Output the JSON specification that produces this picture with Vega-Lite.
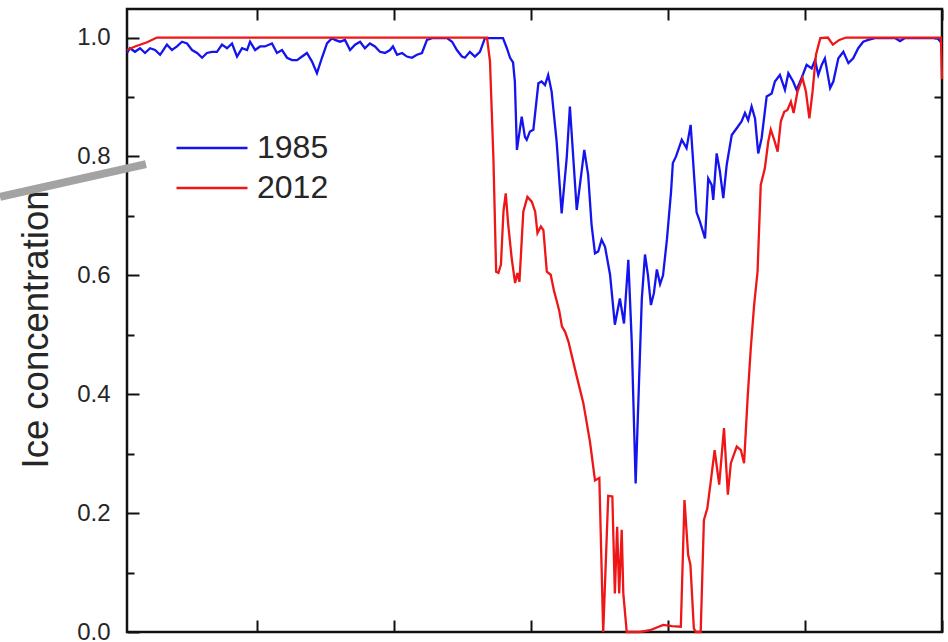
{
  "$schema": "https://vega.github.io/schema/vega-lite/v6.json",
  "width": 815,
  "height": 623,
  "autosize": "none",
  "padding": {"left": 127, "top": 9, "right": 6, "bottom": 10},
  "config": {
    "view": {"stroke": "#111111", "strokeWidth": 2.5},
    "font": "Liberation Sans",
    "axis": {"grid": false, "domain": false, "tickColor": "#111111", "tickWidth": 2, "labelFont": "Liberation Sans", "titleFont": "Liberation Sans"}
  },
  "datasets": {
    "ice": [
      {"year":"1985","day":3,"conc":0.974},{"year":"1985","day":4.3,"conc":0.982},{"year":"1985","day":6.5,"conc":0.976},{"year":"1985","day":8.7,"conc":0.982},{"year":"1985","day":10.9,"conc":0.974},{"year":"1985","day":13.1,"conc":0.982},{"year":"1985","day":15.3,"conc":0.979},{"year":"1985","day":17.5,"conc":0.971},{"year":"1985","day":20.5,"conc":0.988},{"year":"1985","day":22.7,"conc":0.979},{"year":"1985","day":24.9,"conc":0.985},{"year":"1985","day":27.1,"conc":0.993},{"year":"1985","day":29.3,"conc":0.99},{"year":"1985","day":31.5,"conc":0.979},{"year":"1985","day":33.7,"conc":0.974},{"year":"1985","day":35.9,"conc":0.966},{"year":"1985","day":38,"conc":0.974},{"year":"1985","day":40.2,"conc":0.976},{"year":"1985","day":42.4,"conc":0.976},{"year":"1985","day":44.6,"conc":0.988},{"year":"1985","day":46.8,"conc":0.982},{"year":"1985","day":49,"conc":0.99},{"year":"1985","day":51.2,"conc":0.968},{"year":"1985","day":53.4,"conc":0.982},{"year":"1985","day":55.6,"conc":0.979},{"year":"1985","day":56.9,"conc":0.993},{"year":"1985","day":59.1,"conc":0.979},{"year":"1985","day":61.3,"conc":0.985},{"year":"1985","day":63.4,"conc":0.985},{"year":"1985","day":66.5,"conc":0.99},{"year":"1985","day":68.7,"conc":0.974},{"year":"1985","day":70.9,"conc":0.979},{"year":"1985","day":73.1,"conc":0.966},{"year":"1985","day":75.3,"conc":0.962},{"year":"1985","day":77.5,"conc":0.962},{"year":"1985","day":79.7,"conc":0.968},{"year":"1985","day":81.8,"conc":0.974},{"year":"1985","day":84,"conc":0.96},{"year":"1985","day":86.2,"conc":0.94},{"year":"1985","day":88.4,"conc":0.966},{"year":"1985","day":90.6,"conc":0.99},{"year":"1985","day":92.8,"conc":0.999},{"year":"1985","day":94.1,"conc":0.996},{"year":"1985","day":96.3,"conc":0.993},{"year":"1985","day":98.5,"conc":0.996},{"year":"1985","day":100.7,"conc":0.979},{"year":"1985","day":102.9,"conc":0.988},{"year":"1985","day":105.1,"conc":0.993},{"year":"1985","day":107.2,"conc":0.982},{"year":"1985","day":109.4,"conc":0.99},{"year":"1985","day":111.6,"conc":0.985},{"year":"1985","day":113.8,"conc":0.976},{"year":"1985","day":116,"conc":0.974},{"year":"1985","day":118.2,"conc":0.979},{"year":"1985","day":119.5,"conc":0.985},{"year":"1985","day":121.3,"conc":0.971},{"year":"1985","day":123.5,"conc":0.974},{"year":"1985","day":125.6,"conc":0.968},{"year":"1985","day":127.8,"conc":0.966},{"year":"1985","day":130,"conc":0.971},{"year":"1985","day":132.2,"conc":0.974},{"year":"1985","day":134.4,"conc":0.996},{"year":"1985","day":136.6,"conc":0.999},{"year":"1985","day":138.8,"conc":0.999},{"year":"1985","day":141,"conc":0.999},{"year":"1985","day":143.2,"conc":0.999},{"year":"1985","day":145.4,"conc":0.993},{"year":"1985","day":147.5,"conc":0.979},{"year":"1985","day":149.7,"conc":0.968},{"year":"1985","day":151,"conc":0.966},{"year":"1985","day":153.2,"conc":0.976},{"year":"1985","day":155.4,"conc":0.968},{"year":"1985","day":157.6,"conc":0.976},{"year":"1985","day":159.8,"conc":0.999},{"year":"1985","day":162,"conc":0.999},{"year":"1985","day":164.2,"conc":0.999},{"year":"1985","day":166.4,"conc":0.999},{"year":"1985","day":167.7,"conc":0.999},{"year":"1985","day":169.4,"conc":0.982},{"year":"1985","day":170.8,"conc":0.966},{"year":"1985","day":172.1,"conc":0.958},{"year":"1985","day":172.9,"conc":0.926},{"year":"1985","day":173.8,"conc":0.811},{"year":"1985","day":175.9,"conc":0.867},{"year":"1985","day":177.3,"conc":0.833},{"year":"1985","day":178.1,"conc":0.828},{"year":"1985","day":179.5,"conc":0.842},{"year":"1985","day":181,"conc":0.845},{"year":"1985","day":183.2,"conc":0.923},{"year":"1985","day":184.6,"conc":0.926},{"year":"1985","day":186.1,"conc":0.92},{"year":"1985","day":187.5,"conc":0.937},{"year":"1985","day":189,"conc":0.909},{"year":"1985","day":191.2,"conc":0.825},{"year":"1985","day":193.4,"conc":0.704},{"year":"1985","day":195.6,"conc":0.797},{"year":"1985","day":197,"conc":0.884},{"year":"1985","day":198.5,"conc":0.797},{"year":"1985","day":200,"conc":0.71},{"year":"1985","day":201.4,"conc":0.752},{"year":"1985","day":203.3,"conc":0.811},{"year":"1985","day":205,"conc":0.769},{"year":"1985","day":206.5,"conc":0.685},{"year":"1985","day":208,"conc":0.637},{"year":"1985","day":209.4,"conc":0.64},{"year":"1985","day":210.9,"conc":0.66},{"year":"1985","day":212.4,"conc":0.648},{"year":"1985","day":214.6,"conc":0.601},{"year":"1985","day":216.7,"conc":0.517},{"year":"1985","day":218.9,"conc":0.561},{"year":"1985","day":220.7,"conc":0.519},{"year":"1985","day":222.6,"conc":0.626},{"year":"1985","day":224.1,"conc":0.488},{"year":"1985","day":225.8,"conc":0.25},{"year":"1985","day":228.5,"conc":0.56},{"year":"1985","day":229.9,"conc":0.635},{"year":"1985","day":231.2,"conc":0.6},{"year":"1985","day":232.5,"conc":0.55},{"year":"1985","day":233.8,"conc":0.57},{"year":"1985","day":235.1,"conc":0.61},{"year":"1985","day":236.5,"conc":0.585},{"year":"1985","day":237.8,"conc":0.6},{"year":"1985","day":239.5,"conc":0.66},{"year":"1985","day":241.3,"conc":0.74},{"year":"1985","day":242.1,"conc":0.789},{"year":"1985","day":243.5,"conc":0.8},{"year":"1985","day":246,"conc":0.828},{"year":"1985","day":248.1,"conc":0.814},{"year":"1985","day":249.9,"conc":0.853},{"year":"1985","day":252.5,"conc":0.706},{"year":"1985","day":254,"conc":0.69},{"year":"1985","day":256.2,"conc":0.662},{"year":"1985","day":257.6,"conc":0.763},{"year":"1985","day":259.1,"conc":0.752},{"year":"1985","day":259.8,"conc":0.727},{"year":"1985","day":261.3,"conc":0.805},{"year":"1985","day":262.7,"conc":0.775},{"year":"1985","day":264.2,"conc":0.73},{"year":"1985","day":265.7,"conc":0.786},{"year":"1985","day":267.9,"conc":0.836},{"year":"1985","day":270,"conc":0.847},{"year":"1985","day":272.2,"conc":0.859},{"year":"1985","day":273.7,"conc":0.873},{"year":"1985","day":275.1,"conc":0.861},{"year":"1985","day":276.6,"conc":0.884},{"year":"1985","day":278.1,"conc":0.864},{"year":"1985","day":279.5,"conc":0.805},{"year":"1985","day":281,"conc":0.831},{"year":"1985","day":283.2,"conc":0.901},{"year":"1985","day":285.4,"conc":0.906},{"year":"1985","day":286.8,"conc":0.926},{"year":"1985","day":289,"conc":0.937},{"year":"1985","day":291.2,"conc":0.912},{"year":"1985","day":292.7,"conc":0.94},{"year":"1985","day":294.8,"conc":0.926},{"year":"1985","day":296.3,"conc":0.912},{"year":"1985","day":298.5,"conc":0.932},{"year":"1985","day":300.7,"conc":0.954},{"year":"1985","day":302.9,"conc":0.948},{"year":"1985","day":304.4,"conc":0.962},{"year":"1985","day":305.8,"conc":0.937},{"year":"1985","day":307.3,"conc":0.954},{"year":"1985","day":308.7,"conc":0.965},{"year":"1985","day":311,"conc":0.915},{"year":"1985","day":312.4,"conc":0.926},{"year":"1985","day":314.6,"conc":0.965},{"year":"1985","day":316.8,"conc":0.976},{"year":"1985","day":319,"conc":0.957},{"year":"1985","day":321.1,"conc":0.965},{"year":"1985","day":323.3,"conc":0.982},{"year":"1985","day":325.5,"conc":0.993},{"year":"1985","day":327.7,"conc":0.996},{"year":"1985","day":330.6,"conc":0.999},{"year":"1985","day":339.4,"conc":0.999},{"year":"1985","day":341.6,"conc":0.994},{"year":"1985","day":343.8,"conc":0.999},{"year":"1985","day":358,"conc":0.999},{"year":"1985","day":360,"conc":0.99},
      {"year":"2012","day":3,"conc":0.979},{"year":"2012","day":6.5,"conc":0.985},{"year":"2012","day":11.8,"conc":0.992},{"year":"2012","day":16.1,"conc":1.0},{"year":"2012","day":160.7,"conc":1.0},{"year":"2012","day":162,"conc":0.96},{"year":"2012","day":163.5,"conc":0.797},{"year":"2012","day":164.7,"conc":0.606},{"year":"2012","day":165.7,"conc":0.604},{"year":"2012","day":166.8,"conc":0.618},{"year":"2012","day":167.9,"conc":0.707},{"year":"2012","day":168.9,"conc":0.738},{"year":"2012","day":170,"conc":0.685},{"year":"2012","day":171.5,"conc":0.629},{"year":"2012","day":173,"conc":0.587},{"year":"2012","day":174,"conc":0.604},{"year":"2012","day":174.9,"conc":0.589},{"year":"2012","day":176.6,"conc":0.707},{"year":"2012","day":178.4,"conc":0.732},{"year":"2012","day":180.3,"conc":0.724},{"year":"2012","day":181.8,"conc":0.707},{"year":"2012","day":182.8,"conc":0.671},{"year":"2012","day":184.3,"conc":0.682},{"year":"2012","day":185.4,"conc":0.676},{"year":"2012","day":186.9,"conc":0.606},{"year":"2012","day":188.6,"conc":0.601},{"year":"2012","day":190.1,"conc":0.573},{"year":"2012","day":191.3,"conc":0.556},{"year":"2012","day":192.4,"conc":0.539},{"year":"2012","day":193.5,"conc":0.514},{"year":"2012","day":194.9,"conc":0.505},{"year":"2012","day":196.4,"conc":0.488},{"year":"2012","day":200,"conc":0.43},{"year":"2012","day":202.9,"conc":0.385},{"year":"2012","day":205.8,"conc":0.32},{"year":"2012","day":208,"conc":0.255},{"year":"2012","day":209.9,"conc":0.259},{"year":"2012","day":211.6,"conc":0},{"year":"2012","day":213.8,"conc":0.229},{"year":"2012","day":215.6,"conc":0.228},{"year":"2012","day":216.7,"conc":0.065},{"year":"2012","day":217.7,"conc":0.177},{"year":"2012","day":218.6,"conc":0.065},{"year":"2012","day":219.7,"conc":0.172},{"year":"2012","day":220.4,"conc":0.065},{"year":"2012","day":221.9,"conc":0},{"year":"2012","day":227.7,"conc":0},{"year":"2012","day":232.1,"conc":0.003},{"year":"2012","day":237.9,"conc":0.012},{"year":"2012","day":241.7,"conc":0.01},{"year":"2012","day":245.6,"conc":0.009},{"year":"2012","day":247.2,"conc":0.222},{"year":"2012","day":248.8,"conc":0.13},{"year":"2012","day":249.8,"conc":0.113},{"year":"2012","day":251.3,"conc":0.006},{"year":"2012","day":252.2,"conc":0},{"year":"2012","day":254.3,"conc":0},{"year":"2012","day":255.7,"conc":0.188},{"year":"2012","day":257.2,"conc":0.208},{"year":"2012","day":258.7,"conc":0.253},{"year":"2012","day":260.4,"conc":0.306},{"year":"2012","day":262.4,"conc":0.248},{"year":"2012","day":264.5,"conc":0.343},{"year":"2012","day":266.2,"conc":0.231},{"year":"2012","day":267.5,"conc":0.284},{"year":"2012","day":270.1,"conc":0.312},{"year":"2012","day":271.9,"conc":0.306},{"year":"2012","day":273.3,"conc":0.284},{"year":"2012","day":274.8,"conc":0.39},{"year":"2012","day":276.2,"conc":0.475},{"year":"2012","day":277.7,"conc":0.55},{"year":"2012","day":279.2,"conc":0.606},{"year":"2012","day":280.6,"conc":0.752},{"year":"2012","day":282.4,"conc":0.78},{"year":"2012","day":283.9,"conc":0.825},{"year":"2012","day":285,"conc":0.845},{"year":"2012","day":286.5,"conc":0.828},{"year":"2012","day":288,"conc":0.808},{"year":"2012","day":289.4,"conc":0.859},{"year":"2012","day":290.9,"conc":0.875},{"year":"2012","day":292.3,"conc":0.878},{"year":"2012","day":293.8,"conc":0.892},{"year":"2012","day":295,"conc":0.873},{"year":"2012","day":296.7,"conc":0.909},{"year":"2012","day":298.9,"conc":0.932},{"year":"2012","day":300.4,"conc":0.909},{"year":"2012","day":301.9,"conc":0.864},{"year":"2012","day":303.3,"conc":0.909},{"year":"2012","day":304.8,"conc":0.971},{"year":"2012","day":306.7,"conc":0.999},{"year":"2012","day":310,"conc":1.0},{"year":"2012","day":312.2,"conc":0.988},{"year":"2012","day":315,"conc":0.996},{"year":"2012","day":318,"conc":1.0},{"year":"2012","day":359.5,"conc":1.0},{"year":"2012","day":360,"conc":0.93}
    ],
    "pointer": [
      {"day": -52.6, "conc": 0.732},
      {"day": 11.3, "conc": 0.787}
    ]
  },
  "layer": [
    {
      "data": {"name": "ice"},
      "mark": {"type": "line", "strokeWidth": 2.3},
      "encoding": {
        "x": {
          "field": "day", "type": "quantitative",
          "scale": {"domain": [3, 360], "nice": false, "zero": false},
          "axis": {"orient": "bottom", "values": [60, 120, 180, 240, 300, 360], "labels": false, "tickSize": -12, "title": null}
        },
        "y": {
          "field": "conc", "type": "quantitative",
          "scale": {"domain": [0, 1.048], "nice": false},
          "axis": {
            "orient": "left",
            "values": [0, 0.1, 0.2, 0.3, 0.4, 0.5, 0.6, 0.7, 0.8, 0.9, 1.0],
            "labelExpr": "round(datum.value * 10) % 2 === 0 ? format(datum.value, '.1f') : ''",
            "tickSize": {"condition": {"test": "round(datum.value * 10) % 2 === 0", "value": -12}, "value": -7},
            "labelPadding": 29,
            "labelFontSize": 24,
            "labelColor": "#262626",
            "title": "Ice concentration",
            "titleFontSize": 36.5,
            "titleFontWeight": "normal",
            "titleColor": "#262626",
            "titlePadding": 21,
            "titleY": 320
          }
        },
        "color": {
          "field": "year", "type": "nominal",
          "scale": {"domain": ["1985", "2012"], "range": ["#1414ee", "#ee1616"]},
          "legend": {
            "orient": "none", "legendX": 48, "legendY": 123,
            "title": null,
            "symbolType": "stroke", "symbolSize": 5041, "symbolStrokeWidth": 2.3,
            "clipHeight": 32,
            "labelFontSize": 32, "labelColor": "#262626", "labelOffset": 8,
            "rowPadding": 8, "labelLimit": 200
          }
        }
      }
    },
    {
      "data": {"name": "pointer"},
      "mark": {"type": "line", "color": "#a3a3a3", "strokeWidth": 8, "strokeCap": "butt", "clip": false},
      "encoding": {
        "x": {
          "field": "day", "type": "quantitative",
          "scale": {"domain": [3, 360], "nice": false, "zero": false},
          "axis": {"orient": "top", "values": [60, 120, 180, 240, 300, 360], "labels": false, "tickSize": -11, "title": null}
        },
        "y": {
          "field": "conc", "type": "quantitative",
          "scale": {"domain": [0, 1.048], "nice": false},
          "axis": {"orient": "right", "values": [0.1, 0.2, 0.3, 0.4, 0.5, 0.6, 0.7, 0.8, 0.9, 1.0], "labels": false, "tickSize": -8, "title": null}
        }
      }
    }
  ],
  "resolve": {"axis": {"x": "independent", "y": "independent"}}
}
